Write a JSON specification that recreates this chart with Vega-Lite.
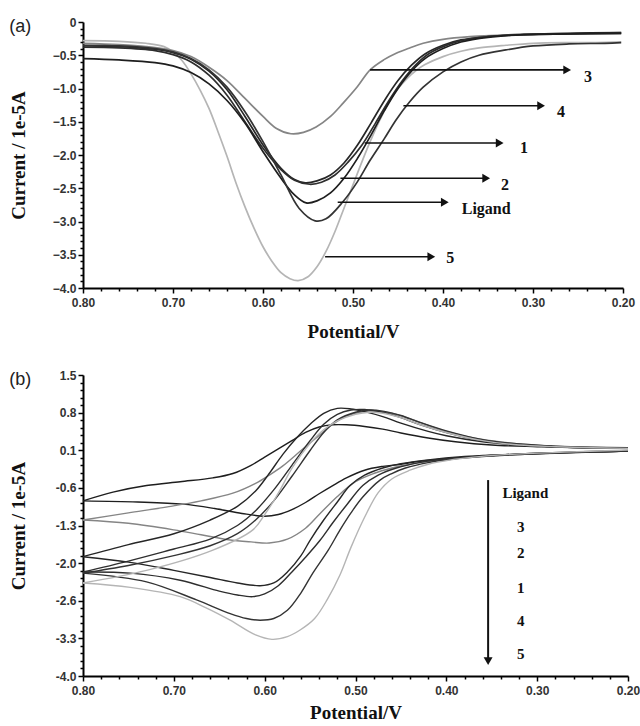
{
"$schema": "https://vega.github.io/schema/vega-lite/v6.json",
"padding": {"left": 9, "top": 16, "right": 5, "bottom": 3},
"spacing": 28,
"config": {"view": {"stroke": null}, "background": "white"},
"datasets": {
"curvesA": [
{"s":"5","x":0.80,"y":-0.28},{"s":"5","x":0.76,"y":-0.29},{"s":"5","x":0.73,"y":-0.32},{"s":"5","x":0.71,"y":-0.37},{"s":"5","x":0.70,"y":-0.45},{"s":"5","x":0.69,"y":-0.58},{"s":"5","x":0.68,"y":-0.78},{"s":"5","x":0.67,"y":-1.02},{"s":"5","x":0.66,"y":-1.3},{"s":"5","x":0.65,"y":-1.65},{"s":"5","x":0.64,"y":-2.02},{"s":"5","x":0.63,"y":-2.42},{"s":"5","x":0.62,"y":-2.78},{"s":"5","x":0.61,"y":-3.1},{"s":"5","x":0.60,"y":-3.38},{"s":"5","x":0.59,"y":-3.6},{"s":"5","x":0.58,"y":-3.77},{"s":"5","x":0.57,"y":-3.86},{"s":"5","x":0.561,"y":-3.89},{"s":"5","x":0.55,"y":-3.83},{"s":"5","x":0.54,"y":-3.68},{"s":"5","x":0.53,"y":-3.45},{"s":"5","x":0.52,"y":-3.15},{"s":"5","x":0.51,"y":-2.8},{"s":"5","x":0.50,"y":-2.45},{"s":"5","x":0.49,"y":-2.1},{"s":"5","x":0.48,"y":-1.77},{"s":"5","x":0.47,"y":-1.47},{"s":"5","x":0.46,"y":-1.2},{"s":"5","x":0.45,"y":-1.0},{"s":"5","x":0.44,"y":-0.85},{"s":"5","x":0.43,"y":-0.73},{"s":"5","x":0.42,"y":-0.64},{"s":"5","x":0.40,"y":-0.52},{"s":"5","x":0.38,"y":-0.44},{"s":"5","x":0.36,"y":-0.39},{"s":"5","x":0.33,"y":-0.35},{"s":"5","x":0.30,"y":-0.32},{"s":"5","x":0.26,"y":-0.31},{"s":"5","x":0.23,"y":-0.31},{"s":"5","x":0.202,"y":-0.30},
{"s":"3","x":0.80,"y":-0.32},{"s":"3","x":0.76,"y":-0.34},{"s":"3","x":0.73,"y":-0.37},{"s":"3","x":0.70,"y":-0.43},{"s":"3","x":0.68,"y":-0.52},{"s":"3","x":0.66,"y":-0.68},{"s":"3","x":0.64,"y":-0.88},{"s":"3","x":0.62,"y":-1.15},{"s":"3","x":0.60,"y":-1.42},{"s":"3","x":0.585,"y":-1.6},{"s":"3","x":0.569,"y":-1.68},{"s":"3","x":0.555,"y":-1.66},{"s":"3","x":0.541,"y":-1.58},{"s":"3","x":0.525,"y":-1.42},{"s":"3","x":0.511,"y":-1.22},{"s":"3","x":0.495,"y":-0.97},{"s":"3","x":0.481,"y":-0.72},{"s":"3","x":0.466,"y":-0.57},{"s":"3","x":0.452,"y":-0.47},{"s":"3","x":0.437,"y":-0.39},{"s":"3","x":0.422,"y":-0.32},{"s":"3","x":0.40,"y":-0.26},{"s":"3","x":0.37,"y":-0.22},{"s":"3","x":0.34,"y":-0.2},{"s":"3","x":0.30,"y":-0.18},{"s":"3","x":0.25,"y":-0.17},{"s":"3","x":0.202,"y":-0.16},
{"s":"2","x":0.80,"y":-0.36},{"s":"2","x":0.76,"y":-0.37},{"s":"2","x":0.72,"y":-0.41},{"s":"2","x":0.70,"y":-0.46},{"s":"2","x":0.68,"y":-0.56},{"s":"2","x":0.66,"y":-0.74},{"s":"2","x":0.64,"y":-1.02},{"s":"2","x":0.62,"y":-1.42},{"s":"2","x":0.60,"y":-1.85},{"s":"2","x":0.58,"y":-2.2},{"s":"2","x":0.565,"y":-2.37},{"s":"2","x":0.553,"y":-2.42},{"s":"2","x":0.54,"y":-2.39},{"s":"2","x":0.525,"y":-2.3},{"s":"2","x":0.51,"y":-2.12},{"s":"2","x":0.495,"y":-1.85},{"s":"2","x":0.48,"y":-1.52},{"s":"2","x":0.465,"y":-1.18},{"s":"2","x":0.45,"y":-0.88},{"s":"2","x":0.435,"y":-0.65},{"s":"2","x":0.42,"y":-0.48},{"s":"2","x":0.40,"y":-0.35},{"s":"2","x":0.38,"y":-0.27},{"s":"2","x":0.35,"y":-0.22},{"s":"2","x":0.31,"y":-0.19},{"s":"2","x":0.26,"y":-0.17},{"s":"2","x":0.202,"y":-0.16},
{"s":"1","x":0.80,"y":-0.38},{"s":"1","x":0.76,"y":-0.39},{"s":"1","x":0.72,"y":-0.43},{"s":"1","x":0.70,"y":-0.49},{"s":"1","x":0.68,"y":-0.6},{"s":"1","x":0.66,"y":-0.8},{"s":"1","x":0.64,"y":-1.1},{"s":"1","x":0.62,"y":-1.5},{"s":"1","x":0.60,"y":-1.9},{"s":"1","x":0.58,"y":-2.22},{"s":"1","x":0.565,"y":-2.38},{"s":"1","x":0.548,"y":-2.44},{"s":"1","x":0.535,"y":-2.41},{"s":"1","x":0.52,"y":-2.3},{"s":"1","x":0.505,"y":-2.1},{"s":"1","x":0.49,"y":-1.85},{"s":"1","x":0.475,"y":-1.52},{"s":"1","x":0.46,"y":-1.18},{"s":"1","x":0.445,"y":-0.88},{"s":"1","x":0.43,"y":-0.64},{"s":"1","x":0.415,"y":-0.47},{"s":"1","x":0.40,"y":-0.37},{"s":"1","x":0.38,"y":-0.28},{"s":"1","x":0.35,"y":-0.22},{"s":"1","x":0.31,"y":-0.19},{"s":"1","x":0.26,"y":-0.18},{"s":"1","x":0.202,"y":-0.17},
{"s":"Ligand","x":0.80,"y":-0.55},{"s":"Ligand","x":0.76,"y":-0.57},{"s":"Ligand","x":0.72,"y":-0.61},{"s":"Ligand","x":0.70,"y":-0.66},{"s":"Ligand","x":0.68,"y":-0.76},{"s":"Ligand","x":0.66,"y":-0.93},{"s":"Ligand","x":0.64,"y":-1.18},{"s":"Ligand","x":0.62,"y":-1.52},{"s":"Ligand","x":0.60,"y":-1.95},{"s":"Ligand","x":0.58,"y":-2.35},{"s":"Ligand","x":0.565,"y":-2.6},{"s":"Ligand","x":0.552,"y":-2.72},{"s":"Ligand","x":0.54,"y":-2.69},{"s":"Ligand","x":0.525,"y":-2.57},{"s":"Ligand","x":0.51,"y":-2.35},{"s":"Ligand","x":0.495,"y":-2.05},{"s":"Ligand","x":0.48,"y":-1.7},{"s":"Ligand","x":0.465,"y":-1.33},{"s":"Ligand","x":0.45,"y":-1.0},{"s":"Ligand","x":0.435,"y":-0.74},{"s":"Ligand","x":0.42,"y":-0.55},{"s":"Ligand","x":0.40,"y":-0.4},{"s":"Ligand","x":0.38,"y":-0.3},{"s":"Ligand","x":0.35,"y":-0.23},{"s":"Ligand","x":0.31,"y":-0.19},{"s":"Ligand","x":0.26,"y":-0.18},{"s":"Ligand","x":0.202,"y":-0.17},
{"s":"4","x":0.80,"y":-0.35},{"s":"4","x":0.76,"y":-0.36},{"s":"4","x":0.72,"y":-0.40},{"s":"4","x":0.70,"y":-0.45},{"s":"4","x":0.68,"y":-0.55},{"s":"4","x":0.66,"y":-0.72},{"s":"4","x":0.64,"y":-0.98},{"s":"4","x":0.62,"y":-1.35},{"s":"4","x":0.60,"y":-1.8},{"s":"4","x":0.58,"y":-2.3},{"s":"4","x":0.56,"y":-2.8},{"s":"4","x":0.542,"y":-2.99},{"s":"4","x":0.53,"y":-2.96},{"s":"4","x":0.511,"y":-2.7},{"s":"4","x":0.495,"y":-2.4},{"s":"4","x":0.481,"y":-2.08},{"s":"4","x":0.465,"y":-1.75},{"s":"4","x":0.452,"y":-1.47},{"s":"4","x":0.437,"y":-1.2},{"s":"4","x":0.422,"y":-0.98},{"s":"4","x":0.40,"y":-0.75},{"s":"4","x":0.38,"y":-0.6},{"s":"4","x":0.36,"y":-0.5},{"s":"4","x":0.33,"y":-0.42},{"s":"4","x":0.30,"y":-0.36},{"s":"4","x":0.26,"y":-0.33},{"s":"4","x":0.22,"y":-0.32},{"s":"4","x":0.202,"y":-0.31}
],
"curvesB": [
{"s":"Ligand","br":"lo","x":0.20,"y":0.12},{"s":"Ligand","br":"lo","x":0.25,"y":0.10},{"s":"Ligand","br":"lo","x":0.30,"y":0.07},{"s":"Ligand","br":"lo","x":0.35,"y":0.03},{"s":"Ligand","br":"lo","x":0.40,"y":-0.03},{"s":"Ligand","br":"lo","x":0.43,"y":-0.08},{"s":"Ligand","br":"lo","x":0.45,"y":-0.13},{"s":"Ligand","br":"lo","x":0.47,"y":-0.17},{"s":"Ligand","br":"lo","x":0.49,"y":-0.24},{"s":"Ligand","br":"lo","x":0.51,"y":-0.38},{"s":"Ligand","br":"lo","x":0.525,"y":-0.52},{"s":"Ligand","br":"lo","x":0.54,"y":-0.67},{"s":"Ligand","br":"lo","x":0.555,"y":-0.83},{"s":"Ligand","br":"lo","x":0.57,"y":-0.96},{"s":"Ligand","br":"lo","x":0.585,"y":-1.05},{"s":"Ligand","br":"lo","x":0.60,"y":-1.08},{"s":"Ligand","br":"lo","x":0.625,"y":-1.03},{"s":"Ligand","br":"lo","x":0.655,"y":-0.94},{"s":"Ligand","br":"lo","x":0.69,"y":-0.86},{"s":"Ligand","br":"lo","x":0.74,"y":-0.82},{"s":"Ligand","br":"lo","x":0.80,"y":-0.80},
{"s":"Ligand","br":"up","x":0.80,"y":-0.80},{"s":"Ligand","br":"up","x":0.767,"y":-0.64},{"s":"Ligand","br":"up","x":0.73,"y":-0.52},{"s":"Ligand","br":"up","x":0.693,"y":-0.45},{"s":"Ligand","br":"up","x":0.657,"y":-0.38},{"s":"Ligand","br":"up","x":0.635,"y":-0.3},{"s":"Ligand","br":"up","x":0.615,"y":-0.15},{"s":"Ligand","br":"up","x":0.60,"y":0.0},{"s":"Ligand","br":"up","x":0.585,"y":0.15},{"s":"Ligand","br":"up","x":0.57,"y":0.3},{"s":"Ligand","br":"up","x":0.555,"y":0.45},{"s":"Ligand","br":"up","x":0.54,"y":0.55},{"s":"Ligand","br":"up","x":0.525,"y":0.59},{"s":"Ligand","br":"up","x":0.51,"y":0.59},{"s":"Ligand","br":"up","x":0.49,"y":0.56},{"s":"Ligand","br":"up","x":0.47,"y":0.51},{"s":"Ligand","br":"up","x":0.45,"y":0.44},{"s":"Ligand","br":"up","x":0.42,"y":0.35},{"s":"Ligand","br":"up","x":0.39,"y":0.28},{"s":"Ligand","br":"up","x":0.35,"y":0.22},{"s":"Ligand","br":"up","x":0.30,"y":0.19},{"s":"Ligand","br":"up","x":0.25,"y":0.17},{"s":"Ligand","br":"up","x":0.20,"y":0.16},
{"s":"3","br":"lo","x":0.20,"y":0.11},{"s":"3","br":"lo","x":0.24,"y":0.09},{"s":"3","br":"lo","x":0.28,"y":0.07},{"s":"3","br":"lo","x":0.33,"y":0.04},{"s":"3","br":"lo","x":0.37,"y":0.0},{"s":"3","br":"lo","x":0.41,"y":-0.06},{"s":"3","br":"lo","x":0.44,"y":-0.13},{"s":"3","br":"lo","x":0.46,"y":-0.2},{"s":"3","br":"lo","x":0.48,"y":-0.3},{"s":"3","br":"lo","x":0.50,"y":-0.45},{"s":"3","br":"lo","x":0.52,"y":-0.72},{"s":"3","br":"lo","x":0.54,"y":-1.05},{"s":"3","br":"lo","x":0.555,"y":-1.3},{"s":"3","br":"lo","x":0.575,"y":-1.5},{"s":"3","br":"lo","x":0.595,"y":-1.57},{"s":"3","br":"lo","x":0.615,"y":-1.55},{"s":"3","br":"lo","x":0.64,"y":-1.51},{"s":"3","br":"lo","x":0.67,"y":-1.42},{"s":"3","br":"lo","x":0.70,"y":-1.33},{"s":"3","br":"lo","x":0.75,"y":-1.21},{"s":"3","br":"lo","x":0.80,"y":-1.15},
{"s":"3","br":"up","x":0.80,"y":-1.15},{"s":"3","br":"up","x":0.75,"y":-1.02},{"s":"3","br":"up","x":0.707,"y":-0.91},{"s":"3","br":"up","x":0.67,"y":-0.8},{"s":"3","br":"up","x":0.635,"y":-0.66},{"s":"3","br":"up","x":0.61,"y":-0.48},{"s":"3","br":"up","x":0.595,"y":-0.33},{"s":"3","br":"up","x":0.58,"y":-0.16},{"s":"3","br":"up","x":0.56,"y":0.12},{"s":"3","br":"up","x":0.542,"y":0.37},{"s":"3","br":"up","x":0.525,"y":0.6},{"s":"3","br":"up","x":0.51,"y":0.75},{"s":"3","br":"up","x":0.495,"y":0.82},{"s":"3","br":"up","x":0.48,"y":0.84},{"s":"3","br":"up","x":0.46,"y":0.8},{"s":"3","br":"up","x":0.44,"y":0.7},{"s":"3","br":"up","x":0.42,"y":0.58},{"s":"3","br":"up","x":0.40,"y":0.47},{"s":"3","br":"up","x":0.37,"y":0.35},{"s":"3","br":"up","x":0.33,"y":0.26},{"s":"3","br":"up","x":0.29,"y":0.21},{"s":"3","br":"up","x":0.25,"y":0.18},{"s":"3","br":"up","x":0.20,"y":0.17},
{"s":"2","br":"lo","x":0.20,"y":0.11},{"s":"2","br":"lo","x":0.24,"y":0.09},{"s":"2","br":"lo","x":0.29,"y":0.07},{"s":"2","br":"lo","x":0.34,"y":0.04},{"s":"2","br":"lo","x":0.38,"y":0.01},{"s":"2","br":"lo","x":0.42,"y":-0.05},{"s":"2","br":"lo","x":0.45,"y":-0.12},{"s":"2","br":"lo","x":0.47,"y":-0.2},{"s":"2","br":"lo","x":0.49,"y":-0.33},{"s":"2","br":"lo","x":0.506,"y":-0.52},{"s":"2","br":"lo","x":0.52,"y":-0.82},{"s":"2","br":"lo","x":0.535,"y":-1.15},{"s":"2","br":"lo","x":0.55,"y":-1.52},{"s":"2","br":"lo","x":0.56,"y":-1.8},{"s":"2","br":"lo","x":0.575,"y":-2.1},{"s":"2","br":"lo","x":0.59,"y":-2.3},{"s":"2","br":"lo","x":0.605,"y":-2.35},{"s":"2","br":"lo","x":0.63,"y":-2.3},{"s":"2","br":"lo","x":0.66,"y":-2.2},{"s":"2","br":"lo","x":0.70,"y":-2.07},{"s":"2","br":"lo","x":0.75,"y":-1.92},{"s":"2","br":"lo","x":0.80,"y":-1.82},
{"s":"2","br":"up","x":0.80,"y":-1.82},{"s":"2","br":"up","x":0.75,"y":-1.6},{"s":"2","br":"up","x":0.70,"y":-1.4},{"s":"2","br":"up","x":0.66,"y":-1.15},{"s":"2","br":"up","x":0.63,"y":-0.9},{"s":"2","br":"up","x":0.61,"y":-0.62},{"s":"2","br":"up","x":0.595,"y":-0.3},{"s":"2","br":"up","x":0.58,"y":0.05},{"s":"2","br":"up","x":0.565,"y":0.35},{"s":"2","br":"up","x":0.55,"y":0.6},{"s":"2","br":"up","x":0.535,"y":0.8},{"s":"2","br":"up","x":0.52,"y":0.89},{"s":"2","br":"up","x":0.505,"y":0.88},{"s":"2","br":"up","x":0.49,"y":0.83},{"s":"2","br":"up","x":0.47,"y":0.74},{"s":"2","br":"up","x":0.45,"y":0.62},{"s":"2","br":"up","x":0.42,"y":0.47},{"s":"2","br":"up","x":0.40,"y":0.39},{"s":"2","br":"up","x":0.36,"y":0.28},{"s":"2","br":"up","x":0.32,"y":0.22},{"s":"2","br":"up","x":0.28,"y":0.19},{"s":"2","br":"up","x":0.24,"y":0.17},{"s":"2","br":"up","x":0.20,"y":0.17},
{"s":"1","br":"lo","x":0.20,"y":0.11},{"s":"1","br":"lo","x":0.25,"y":0.09},{"s":"1","br":"lo","x":0.31,"y":0.06},{"s":"1","br":"lo","x":0.36,"y":0.02},{"s":"1","br":"lo","x":0.40,"y":-0.03},{"s":"1","br":"lo","x":0.43,"y":-0.1},{"s":"1","br":"lo","x":0.455,"y":-0.2},{"s":"1","br":"lo","x":0.475,"y":-0.33},{"s":"1","br":"lo","x":0.492,"y":-0.52},{"s":"1","br":"lo","x":0.51,"y":-0.88},{"s":"1","br":"lo","x":0.525,"y":-1.2},{"s":"1","br":"lo","x":0.539,"y":-1.52},{"s":"1","br":"lo","x":0.555,"y":-1.83},{"s":"1","br":"lo","x":0.57,"y":-2.1},{"s":"1","br":"lo","x":0.585,"y":-2.35},{"s":"1","br":"lo","x":0.60,"y":-2.5},{"s":"1","br":"lo","x":0.613,"y":-2.55},{"s":"1","br":"lo","x":0.63,"y":-2.52},{"s":"1","br":"lo","x":0.65,"y":-2.45},{"s":"1","br":"lo","x":0.693,"y":-2.25},{"s":"1","br":"lo","x":0.748,"y":-2.12},{"s":"1","br":"lo","x":0.80,"y":-2.1},
{"s":"1","br":"up","x":0.80,"y":-2.1},{"s":"1","br":"up","x":0.75,"y":-1.9},{"s":"1","br":"up","x":0.70,"y":-1.68},{"s":"1","br":"up","x":0.66,"y":-1.5},{"s":"1","br":"up","x":0.63,"y":-1.25},{"s":"1","br":"up","x":0.61,"y":-0.98},{"s":"1","br":"up","x":0.59,"y":-0.6},{"s":"1","br":"up","x":0.57,"y":-0.15},{"s":"1","br":"up","x":0.55,"y":0.3},{"s":"1","br":"up","x":0.535,"y":0.6},{"s":"1","br":"up","x":0.52,"y":0.78},{"s":"1","br":"up","x":0.505,"y":0.86},{"s":"1","br":"up","x":0.49,"y":0.87},{"s":"1","br":"up","x":0.47,"y":0.82},{"s":"1","br":"up","x":0.45,"y":0.72},{"s":"1","br":"up","x":0.43,"y":0.6},{"s":"1","br":"up","x":0.40,"y":0.45},{"s":"1","br":"up","x":0.36,"y":0.3},{"s":"1","br":"up","x":0.32,"y":0.23},{"s":"1","br":"up","x":0.28,"y":0.19},{"s":"1","br":"up","x":0.24,"y":0.17},{"s":"1","br":"up","x":0.20,"y":0.17},
{"s":"4","br":"lo","x":0.20,"y":0.11},{"s":"4","br":"lo","x":0.25,"y":0.09},{"s":"4","br":"lo","x":0.30,"y":0.06},{"s":"4","br":"lo","x":0.35,"y":0.02},{"s":"4","br":"lo","x":0.39,"y":-0.03},{"s":"4","br":"lo","x":0.42,"y":-0.1},{"s":"4","br":"lo","x":0.445,"y":-0.2},{"s":"4","br":"lo","x":0.46,"y":-0.3},{"s":"4","br":"lo","x":0.473,"y":-0.42},{"s":"4","br":"lo","x":0.492,"y":-0.73},{"s":"4","br":"lo","x":0.505,"y":-1.02},{"s":"4","br":"lo","x":0.517,"y":-1.33},{"s":"4","br":"lo","x":0.53,"y":-1.7},{"s":"4","br":"lo","x":0.547,"y":-2.12},{"s":"4","br":"lo","x":0.56,"y":-2.48},{"s":"4","br":"lo","x":0.575,"y":-2.8},{"s":"4","br":"lo","x":0.59,"y":-2.95},{"s":"4","br":"lo","x":0.605,"y":-2.98},{"s":"4","br":"lo","x":0.62,"y":-2.95},{"s":"4","br":"lo","x":0.638,"y":-2.86},{"s":"4","br":"lo","x":0.675,"y":-2.61},{"s":"4","br":"lo","x":0.73,"y":-2.28},{"s":"4","br":"lo","x":0.80,"y":-2.12},
{"s":"4","br":"up","x":0.80,"y":-2.12},{"s":"4","br":"up","x":0.75,"y":-1.98},{"s":"4","br":"up","x":0.70,"y":-1.8},{"s":"4","br":"up","x":0.66,"y":-1.62},{"s":"4","br":"up","x":0.63,"y":-1.4},{"s":"4","br":"up","x":0.61,"y":-1.15},{"s":"4","br":"up","x":0.59,"y":-0.8},{"s":"4","br":"up","x":0.57,"y":-0.35},{"s":"4","br":"up","x":0.55,"y":0.12},{"s":"4","br":"up","x":0.535,"y":0.45},{"s":"4","br":"up","x":0.52,"y":0.68},{"s":"4","br":"up","x":0.50,"y":0.82},{"s":"4","br":"up","x":0.485,"y":0.86},{"s":"4","br":"up","x":0.47,"y":0.84},{"s":"4","br":"up","x":0.45,"y":0.76},{"s":"4","br":"up","x":0.43,"y":0.64},{"s":"4","br":"up","x":0.40,"y":0.48},{"s":"4","br":"up","x":0.36,"y":0.32},{"s":"4","br":"up","x":0.32,"y":0.24},{"s":"4","br":"up","x":0.28,"y":0.2},{"s":"4","br":"up","x":0.24,"y":0.18},{"s":"4","br":"up","x":0.20,"y":0.17},
{"s":"5","br":"lo","x":0.20,"y":0.13},{"s":"5","br":"lo","x":0.27,"y":0.09},{"s":"5","br":"lo","x":0.34,"y":0.04},{"s":"5","br":"lo","x":0.37,"y":0.0},{"s":"5","br":"lo","x":0.395,"y":-0.05},{"s":"5","br":"lo","x":0.42,"y":-0.13},{"s":"5","br":"lo","x":0.44,"y":-0.24},{"s":"5","br":"lo","x":0.46,"y":-0.4},{"s":"5","br":"lo","x":0.475,"y":-0.65},{"s":"5","br":"lo","x":0.49,"y":-1.1},{"s":"5","br":"lo","x":0.505,"y":-1.65},{"s":"5","br":"lo","x":0.517,"y":-2.15},{"s":"5","br":"lo","x":0.531,"y":-2.6},{"s":"5","br":"lo","x":0.545,"y":-2.95},{"s":"5","br":"lo","x":0.561,"y":-3.16},{"s":"5","br":"lo","x":0.575,"y":-3.28},{"s":"5","br":"lo","x":0.592,"y":-3.33},{"s":"5","br":"lo","x":0.61,"y":-3.25},{"s":"5","br":"lo","x":0.638,"y":-2.98},{"s":"5","br":"lo","x":0.665,"y":-2.75},{"s":"5","br":"lo","x":0.693,"y":-2.55},{"s":"5","br":"lo","x":0.748,"y":-2.38},{"s":"5","br":"lo","x":0.80,"y":-2.3},
{"s":"5","br":"up","x":0.80,"y":-2.3},{"s":"5","br":"up","x":0.73,"y":-2.07},{"s":"5","br":"up","x":0.657,"y":-1.7},{"s":"5","br":"up","x":0.613,"y":-1.33},{"s":"5","br":"up","x":0.60,"y":-1.05},{"s":"5","br":"up","x":0.59,"y":-0.8},{"s":"5","br":"up","x":0.583,"y":-0.6},{"s":"5","br":"up","x":0.569,"y":-0.18},{"s":"5","br":"up","x":0.55,"y":0.25},{"s":"5","br":"up","x":0.535,"y":0.5},{"s":"5","br":"up","x":0.52,"y":0.66},{"s":"5","br":"up","x":0.50,"y":0.78},{"s":"5","br":"up","x":0.485,"y":0.82},{"s":"5","br":"up","x":0.47,"y":0.8},{"s":"5","br":"up","x":0.45,"y":0.72},{"s":"5","br":"up","x":0.43,"y":0.6},{"s":"5","br":"up","x":0.40,"y":0.45},{"s":"5","br":"up","x":0.36,"y":0.3},{"s":"5","br":"up","x":0.32,"y":0.22},{"s":"5","br":"up","x":0.28,"y":0.19},{"s":"5","br":"up","x":0.24,"y":0.17},{"s":"5","br":"up","x":0.20,"y":0.16}
],
"arrA": [
{"lab":"3","x1":0.481,"x2":0.262,"y":-0.72,"lx":0.239,"ly":-0.82},
{"lab":"4","x1":0.444,"x2":0.291,"y":-1.26,"lx":0.269,"ly":-1.36},
{"lab":"1","x1":0.487,"x2":0.337,"y":-1.82,"lx":0.31,"ly":-1.9},
{"lab":"2","x1":0.514,"x2":0.352,"y":-2.35,"lx":0.331,"ly":-2.45},
{"lab":"Ligand","x1":0.517,"x2":0.398,"y":-2.71,"lx":0.352,"ly":-2.81},
{"lab":"5","x1":0.531,"x2":0.413,"y":-3.53,"lx":0.392,"ly":-3.55}
],
"arrB": [{"x":0.354,"y1":-0.42,"y2":-3.727}],
"labB": [
{"lab":"Ligand","x":0.313,"y":-0.66},
{"lab":"3","x":0.318,"y":-1.28},
{"lab":"2","x":0.318,"y":-1.75},
{"lab":"1","x":0.318,"y":-2.39},
{"lab":"4","x":0.318,"y":-3.0},
{"lab":"5","x":0.318,"y":-3.6}
]
},
"vconcat": [
{
"width": 540, "height": 266,
"title": {"text": "(a)", "anchor": "start", "frame": "bounds", "font": "Liberation Sans", "fontSize": 18, "fontWeight": "normal", "color": "#222", "baseline": "top", "offset": 0, "dy": 20},
"layer": [
{
"data": {"name": "curvesA"},
"mark": {"type": "line", "interpolate": "catmull-rom", "strokeWidth": 1.7},
"encoding": {
"x": {"field": "x", "type": "quantitative",
"scale": {"domain": [0.2, 0.8], "reverse": true, "nice": false, "zero": false},
"axis": {"title": "Potential/V", "titleFont": "Liberation Serif", "titleFontSize": 19, "titleFontWeight": "bold", "titleColor": "#111", "titlePadding": 14, "tickCount": 200,
"values": [0.2,0.22,0.24,0.26,0.28,0.3,0.32,0.34,0.36,0.38,0.4,0.42,0.44,0.46,0.48,0.5,0.52,0.54,0.56,0.58,0.6,0.62,0.64,0.66,0.68,0.7,0.72,0.74,0.76,0.78,0.8],
"labelExpr": "abs(datum.value*10 - round(datum.value*10)) < 0.001 ? format(datum.value, '.2f') : ''",
"tickSize": {"condition": {"test": "abs(datum.value*10 - round(datum.value*10)) < 0.001", "value": 5}, "value": 3},
"labelFont": "Liberation Sans", "labelFontSize": 12, "labelFontWeight": "bold", "labelColor": "#333", "labelPadding": 4,
"labelOverlap": false, "labelFlush": false, "labelBound": false,
"domainColor": "#000", "domainWidth": 2, "tickColor": "#000", "tickWidth": 1.5, "grid": false}},
"y": {"field": "y", "type": "quantitative",
"scale": {"domain": [-4, 0], "nice": false, "zero": false},
"axis": {"title": "Current / 1e-5A", "titleFont": "Liberation Serif", "titleFontSize": 19, "titleFontWeight": "bold", "titleColor": "#111", "titlePadding": 24, "tickCount": 200,
"values": [-4,-3.9,-3.8,-3.7,-3.6,-3.5,-3.4,-3.3,-3.2,-3.1,-3,-2.9,-2.8,-2.7,-2.6,-2.5,-2.4,-2.3,-2.2,-2.1,-2,-1.9,-1.8,-1.7,-1.6,-1.5,-1.4,-1.3,-1.2,-1.1,-1,-0.9,-0.8,-0.7,-0.6,-0.5,-0.4,-0.3,-0.2,-0.1,0],
"labelExpr": "abs(datum.value*2 - round(datum.value*2)) < 0.001 ? (abs(datum.value) < 0.001 ? '0' : format(datum.value, '.1f')) : ''",
"tickSize": {"condition": {"test": "abs(datum.value*2 - round(datum.value*2)) < 0.001", "value": 5}, "value": 3},
"labelFont": "Liberation Sans", "labelFontSize": 12, "labelFontWeight": "bold", "labelColor": "#333", "labelPadding": 2,
"labelOverlap": false, "labelFlush": false, "labelBound": false,
"domainColor": "#000", "domainWidth": 2, "tickColor": "#000", "tickWidth": 1.5, "grid": false}},
"color": {"field": "s", "type": "nominal", "scale": {"domain": ["Ligand","1","2","3","4","5"], "range": ["#1e1e1e","#2e2e2e","#262626","#858585","#333333","#b5b5b5"]}, "legend": null}
}
},
{
"data": {"name": "arrA"},
"mark": {"type": "rule", "color": "#111", "strokeWidth": 1.6},
"encoding": {
"x": {"field": "x1", "type": "quantitative", "scale": {"domain": [0.2, 0.8], "reverse": true, "nice": false, "zero": false}},
"x2": {"field": "x2"},
"y": {"field": "y", "type": "quantitative", "scale": {"domain": [-4, 0], "nice": false, "zero": false}}
}
},
{
"data": {"name": "arrA"},
"mark": {"type": "point", "shape": "triangle-right", "filled": true, "color": "#111", "size": 80, "opacity": 1},
"encoding": {
"x": {"field": "x2", "type": "quantitative", "scale": {"domain": [0.2, 0.8], "reverse": true, "nice": false, "zero": false}},
"y": {"field": "y", "type": "quantitative", "scale": {"domain": [-4, 0], "nice": false, "zero": false}}
}
},
{
"data": {"name": "arrA"},
"mark": {"type": "text", "font": "Liberation Serif", "fontSize": 16, "fontWeight": "bold", "color": "#111", "align": "center", "baseline": "middle"},
"encoding": {
"x": {"field": "lx", "type": "quantitative", "scale": {"domain": [0.2, 0.8], "reverse": true, "nice": false, "zero": false}},
"y": {"field": "ly", "type": "quantitative", "scale": {"domain": [-4, 0], "nice": false, "zero": false}},
"text": {"field": "lab"}
}
}
]
},
{
"width": 545, "height": 301,
"title": {"text": "(b)", "anchor": "start", "frame": "bounds", "font": "Liberation Sans", "fontSize": 18, "fontWeight": "normal", "color": "#222", "baseline": "top", "offset": 0, "dy": 20},
"layer": [
{
"data": {"name": "curvesB"},
"mark": {"type": "line", "interpolate": "catmull-rom", "strokeWidth": 1.4},
"encoding": {
"x": {"field": "x", "type": "quantitative",
"scale": {"domain": [0.2, 0.8], "reverse": true, "nice": false, "zero": false},
"axis": {"title": "Potential/V", "titleFont": "Liberation Serif", "titleFontSize": 19, "titleFontWeight": "bold", "titleColor": "#111", "titlePadding": 7, "tickCount": 200,
"values": [0.2,0.22,0.24,0.26,0.28,0.3,0.32,0.34,0.36,0.38,0.4,0.42,0.44,0.46,0.48,0.5,0.52,0.54,0.56,0.58,0.6,0.62,0.64,0.66,0.68,0.7,0.72,0.74,0.76,0.78,0.8],
"labelExpr": "abs(datum.value*10 - round(datum.value*10)) < 0.001 ? format(datum.value, '.2f') : ''",
"tickSize": {"condition": {"test": "abs(datum.value*10 - round(datum.value*10)) < 0.001", "value": 5}, "value": 3},
"labelFont": "Liberation Sans", "labelFontSize": 12, "labelFontWeight": "bold", "labelColor": "#333", "labelPadding": 4,
"labelOverlap": false, "labelFlush": false, "labelBound": false,
"domainColor": "#000", "domainWidth": 2, "tickColor": "#000", "tickWidth": 1.5, "grid": false}},
"y": {"field": "y", "type": "quantitative",
"scale": {"domain": [-4, 1.5], "nice": false, "zero": false},
"axis": {"title": "Current / 1e-5A", "titleFont": "Liberation Serif", "titleFontSize": 19, "titleFontWeight": "bold", "titleColor": "#111", "titlePadding": 27, "tickCount": 200,
"values": [-4,-3.8625,-3.725,-3.5875,-3.45,-3.3125,-3.175,-3.0375,-2.9,-2.7625,-2.625,-2.4875,-2.35,-2.2125,-2.075,-1.9375,-1.8,-1.6625,-1.525,-1.3875,-1.25,-1.1125,-0.975,-0.8375,-0.7,-0.5625,-0.425,-0.2875,-0.15,-0.0125,0.125,0.2625,0.4,0.5375,0.675,0.8125,0.95,1.0875,1.225,1.3625,1.5],
"labelExpr": "abs((datum.value+4)/0.6875 - round((datum.value+4)/0.6875)) < 0.001 ? ['-4.0','-3.3','-2.6','-2.0','-1.3','-0.6','0.1','0.8','1.5'][round((datum.value+4)/0.6875)] : ''",
"tickSize": {"condition": {"test": "abs((datum.value+4)/0.6875 - round((datum.value+4)/0.6875)) < 0.001", "value": 5}, "value": 3},
"labelFont": "Liberation Sans", "labelFontSize": 12, "labelFontWeight": "bold", "labelColor": "#333", "labelPadding": 2,
"labelOverlap": false, "labelFlush": false, "labelBound": false,
"domainColor": "#000", "domainWidth": 2, "tickColor": "#000", "tickWidth": 1.5, "grid": false}},
"color": {"field": "s", "type": "nominal", "scale": {"domain": ["Ligand","1","2","3","4","5"], "range": ["#6e6e6e","#3a3a3a","#444444","#666666","#555555","#b0b0b0"]}, "legend": null},
"detail": {"field": "br"}
}
},
{
"data": {"name": "arrB"},
"mark": {"type": "rule", "color": "#111", "strokeWidth": 2},
"encoding": {
"x": {"field": "x", "type": "quantitative", "scale": {"domain": [0.2, 0.8], "reverse": true, "nice": false, "zero": false}},
"y": {"field": "y1", "type": "quantitative", "scale": {"domain": [-4, 1.5], "nice": false, "zero": false}},
"y2": {"field": "y2"}
}
},
{
"data": {"name": "arrB"},
"mark": {"type": "point", "shape": "triangle-down", "filled": true, "color": "#111", "size": 80, "opacity": 1},
"encoding": {
"x": {"field": "x", "type": "quantitative", "scale": {"domain": [0.2, 0.8], "reverse": true, "nice": false, "zero": false}},
"y": {"field": "y2", "type": "quantitative", "scale": {"domain": [-4, 1.5], "nice": false, "zero": false}}
}
},
{
"data": {"name": "labB"},
"mark": {"type": "text", "font": "Liberation Serif", "fontSize": 15, "fontWeight": "bold", "color": "#111", "align": "center", "baseline": "middle"},
"encoding": {
"x": {"field": "x", "type": "quantitative", "scale": {"domain": [0.2, 0.8], "reverse": true, "nice": false, "zero": false}},
"y": {"field": "y", "type": "quantitative", "scale": {"domain": [-4, 1.5], "nice": false, "zero": false}},
"text": {"field": "lab"}
}
}
]
}
]
}
